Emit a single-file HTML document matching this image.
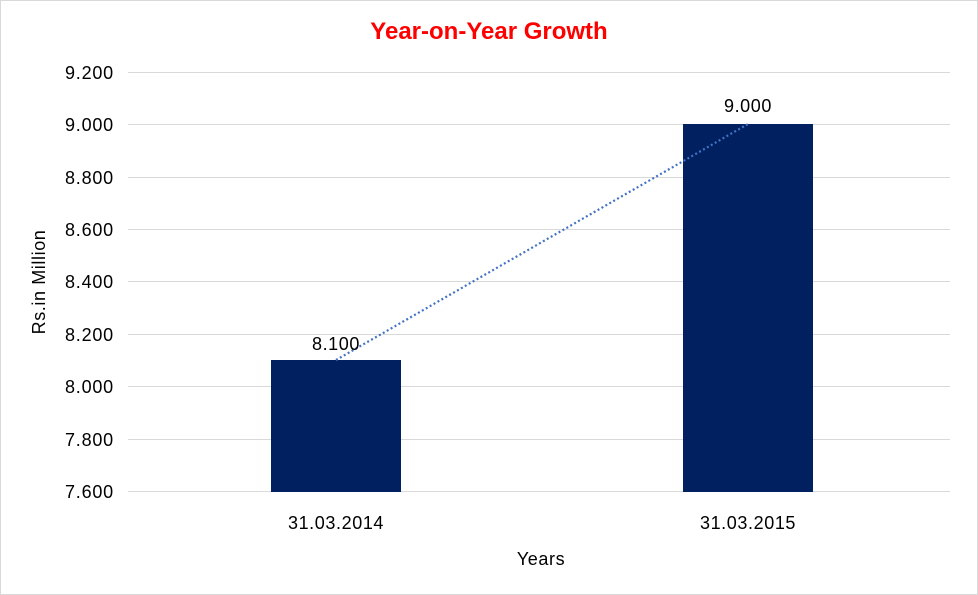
<!DOCTYPE html>
<html><head><style>
body{margin:0;background:#fff;}
svg{display:block;font-family:"Liberation Sans",Arial,sans-serif;}
</style></head><body>
<svg width="978" height="595" viewBox="0 0 978 595">
<rect x="0.5" y="0.5" width="977" height="594" fill="#fff" stroke="#d9d9d9"/>
<text x="489" y="39" text-anchor="middle" font-size="24" font-weight="bold" fill="#ff0000">Year-on-Year Growth</text>
<g stroke="#d9d9d9" stroke-width="1">
<line x1="128" x2="950" y1="72.5" y2="72.5"/>
<line x1="128" x2="950" y1="124.5" y2="124.5"/>
<line x1="128" x2="950" y1="177.5" y2="177.5"/>
<line x1="128" x2="950" y1="229.5" y2="229.5"/>
<line x1="128" x2="950" y1="281.5" y2="281.5"/>
<line x1="128" x2="950" y1="334.5" y2="334.5"/>
<line x1="128" x2="950" y1="386.5" y2="386.5"/>
<line x1="128" x2="950" y1="439.5" y2="439.5"/>
<line x1="128" x2="950" y1="491.5" y2="491.5"/>
</g>
<g font-size="18" fill="#000" text-anchor="end" letter-spacing="0.8">
<text x="114" y="79">9.200</text>
<text x="114" y="131">9.000</text>
<text x="114" y="184">8.800</text>
<text x="114" y="236">8.600</text>
<text x="114" y="288">8.400</text>
<text x="114" y="341">8.200</text>
<text x="114" y="393">8.000</text>
<text x="114" y="446">7.800</text>
<text x="114" y="498">7.600</text>
</g>
<rect x="271" y="360" width="130" height="132" fill="#002060"/>
<rect x="683" y="124" width="130" height="368" fill="#002060"/>
<line x1="336" y1="360" x2="748" y2="124" stroke="#4472c4" stroke-width="2.2" stroke-dasharray="2,2.5"/>
<g font-size="18" fill="#000" text-anchor="middle" letter-spacing="0.6">
<text x="336" y="350">8.100</text>
<text x="748" y="112">9.000</text>
<text x="336" y="529">31.03.2014</text>
<text x="748" y="529">31.03.2015</text>
<text x="541" y="565">Years</text>
<text transform="translate(45,282) rotate(-90)">Rs.in Million</text>
</g>
</svg>
</body></html>
